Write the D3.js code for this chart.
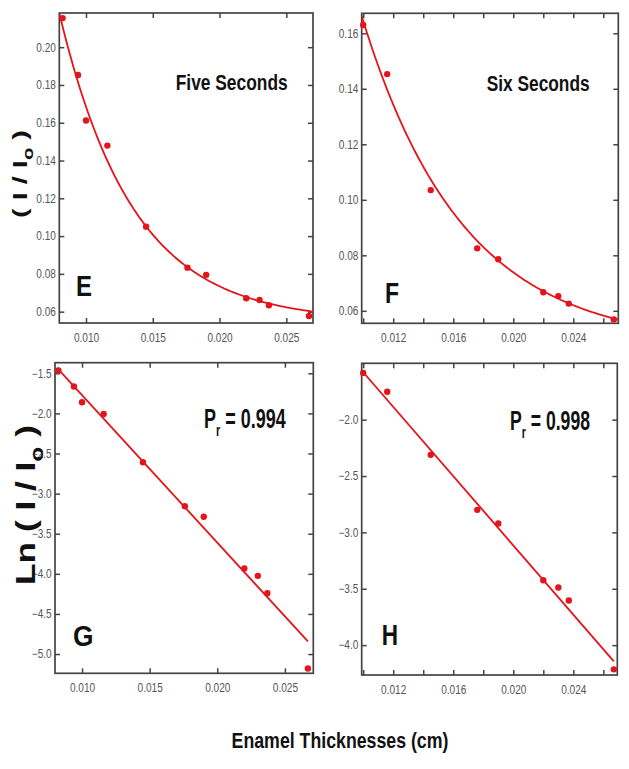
<!DOCTYPE html>
<html>
<head>
<meta charset="utf-8">
<script src="https://cdnjs.cloudflare.com/ajax/libs/d3/7.8.5/d3.min.js"></script>
<style>
  body { margin: 0; background: #fff; }
  svg { display: block; }
</style>
</head>
<body>
<script>
// enamel thickness (cm) for each measurement
const thickFive = [0.00825, 0.0094, 0.0100, 0.0116, 0.0145, 0.0176, 0.0190, 0.0220, 0.0230, 0.0237, 0.0267];
const thickSix = [0.0100, 0.0116, 0.0145, 0.0176, 0.0190, 0.0220, 0.0230, 0.0237, 0.0267];

// I / Io
const ratioE = [0.2154, 0.1853, 0.1612, 0.1479, 0.1050, 0.0833, 0.0795, 0.0671, 0.0662, 0.0634, 0.0577];
const ratioF = [0.1630, 0.1453, 0.1035, 0.0825, 0.0786, 0.0667, 0.0653, 0.0626, 0.0569];

// Ln(I / Io)
const lnG = [-1.465, -1.665, -1.861, -2.008, -2.609, -3.157, -3.289, -3.934, -4.025, -4.242, -5.18];
const lnH = [-1.585, -1.753, -2.312, -2.800, -2.921, -3.425, -3.489, -3.604, -4.215];

// fits: offset + amp * exp(-k x)  and  intercept + slope * x
const expFitE = [0.0548, 0.6946, 181];
const expFitF = [0.0475, 0.519, 149];
const linFitG = [0.065, -183.8];
const linFitH = [-0.043, -153.6];

const ticksXFive = [0.010, 0.015, 0.020, 0.025];
const ticksXSix = [0.010, 0.012, 0.014, 0.016, 0.018, 0.020, 0.022, 0.024, 0.026];
const labelsXSix = [0.012, 0.016, 0.020, 0.024];
const ticksYE = [0.06, 0.08, 0.10, 0.12, 0.14, 0.16, 0.18, 0.20];
const ticksYF = [0.06, 0.08, 0.10, 0.12, 0.14, 0.16];
const ticksYG = [-5.0, -4.5, -4.0, -3.5, -3.0, -2.5, -2.0, -1.5];
const ticksYH = [-4.0, -3.5, -3.0, -2.5, -2.0];

const W = 629, H = 769;
const red = "#e3141b";
const font = "'Liberation Sans', Arial, sans-serif";

const svg = d3.select("body").append("svg")
  .attr("width", W)
  .attr("height", H);

// bold text squeezed sideways to look like a condensed face
function squeezed(x, y, size, width, rot, anchor) {
  const g = svg.append("g");
  const t = g.append("text")
    .attr("text-anchor", anchor || "start")
    .style("font-family", font)
    .style("font-weight", "bold")
    .style("font-size", size + "px")
    .attr("fill", "#111");
  return {
    t: t,
    fit: () => {
      const bw = t.node().getBBox().width;
      g.attr("transform", `translate(${x},${y}) rotate(${rot || 0}) scale(${width / bw},1)`);
    }
  };
}

const panels = [
  { id: "E", box: [59.3, 13, 313, 323], xd: [0.0080, 0.0270], yd: [0.054, 0.2181],
    xs: thickFive, ys: ratioE, xt: ticksXFive, xl: ticksXFive, yt: ticksYE, xf: ".3f", yf: ".2f",
    exp: expFitE, letter: [76, 296, 16], note: "Five Seconds", noteAt: [175.7, 90, 112] },
  { id: "F", box: [361.7, 13.3, 618.3, 323.3], xd: [0.0099, 0.0270], yd: [0.0555, 0.1672],
    xs: thickSix, ys: ratioF, xt: ticksXSix, xl: labelsXSix, yt: ticksYF, xf: ".3f", yf: ".2f",
    exp: expFitF, letter: [385, 303, 14], note: "Six Seconds", noteAt: [486.7, 91, 103] },
  { id: "G", box: [55, 362.7, 313.3, 673.3], xd: [0.0080, 0.0271], yd: [-5.24, -1.368],
    xs: thickFive, ys: lnG, xt: ticksXFive, xl: ticksXFive, yt: ticksYG, xf: ".3f", yf: ".1f",
    lin: linFitG, letter: [73, 646, 20.5], pr: "0.994", noteAt: [204, 428, 82] },
  { id: "H", box: [361.7, 363.3, 617.3, 675], xd: [0.0099, 0.02693], yd: [-4.265, -1.5],
    xs: thickSix, ys: lnH, xt: ticksXSix, xl: labelsXSix, yt: ticksYH, xf: ".3f", yf: ".1f",
    lin: linFitH, letter: [381.7, 645, 16.3], pr: "0.998", noteAt: [510, 430, 80] }
];

panels.forEach(p => {
  const [x0, y0, x1, y1] = p.box;
  const w = x1 - x0, h = y1 - y0;
  const g = svg.append("g").attr("transform", `translate(${x0},${y0})`);
  const x = d3.scaleLinear().domain(p.xd).range([0, w]);
  const y = d3.scaleLinear().domain(p.yd).range([h, 0]);

  const fx = d3.format(p.xf), fy = d3.format(p.yf);
  const xLab = d => p.xl.some(v => Math.abs(v - d) < 1e-9) ? fx(d) : "";

  const axes = [
    [d3.axisBottom(x).tickValues(p.xt).tickFormat(xLab).tickPadding(10), `translate(0,${h})`],
    [d3.axisTop(x).tickValues(p.xt).tickFormat(""), "translate(0,0)"],
    [d3.axisLeft(y).tickValues(p.yt).tickFormat(fy).tickPadding(4), "translate(0,0)"],
    [d3.axisRight(y).tickValues(p.yt).tickFormat(""), `translate(${w},0)`]
  ];
  axes.forEach(([ax, tr]) => {
    const a = g.append("g").attr("transform", tr)
      .call(ax.tickSizeInner(-5).tickSizeOuter(0));
    a.select(".domain").remove();
    a.selectAll("line").attr("stroke", "#444").attr("stroke-width", 1.5);
    a.selectAll("text")
      .attr("transform", "scale(0.84,1)")
      .style("font-family", font)
      .style("font-size", "12px")
      .attr("fill", "#555");
  });

  g.append("rect")
    .attr("width", w).attr("height", h)
    .attr("fill", "none")
    .attr("stroke", "#444")
    .attr("stroke-width", 1.7);

  const clipId = "clip" + p.id;
  g.append("clipPath").attr("id", clipId)
    .append("rect").attr("width", w).attr("height", h);

  // fit curve
  let pts;
  if (p.exp) {
    const [c, a, k] = p.exp;
    pts = d3.range(0, 121).map(i => {
      const xv = p.xd[0] + (p.xd[1] - p.xd[0]) * i / 120;
      return [xv, c + a * Math.exp(-k * xv)];
    });
  } else {
    const [b, m] = p.lin;
    const ext = [d3.min(p.xs) - 0.0001, d3.max(p.xs)];
    pts = ext.map(xv => [xv, b + m * xv]);
  }
  g.append("path")
    .attr("clip-path", `url(#${clipId})`)
    .attr("d", d3.line().x(d => x(d[0])).y(d => y(d[1]))(pts))
    .attr("fill", "none")
    .attr("stroke", red)
    .attr("stroke-width", 1.8);

  g.selectAll("circle.pt")
    .data(p.xs.map((d, i) => [d, p.ys[i]]))
    .join("circle")
    .attr("class", "pt")
    .attr("cx", d => x(d[0]))
    .attr("cy", d => y(d[1]))
    .attr("r", 3.2)
    .attr("fill", red);

  // panel letter
  const L = squeezed(p.letter[0], p.letter[1], 30, p.letter[2]);
  L.t.text(p.id);
  L.fit();

  if (p.note) {
    const n = squeezed(p.noteAt[0], p.noteAt[1], 22, p.noteAt[2]);
    n.t.text(p.note);
    n.fit();
  }
  if (p.pr) {
    const n = squeezed(p.noteAt[0], p.noteAt[1], 28, p.noteAt[2]);
    n.t.append("tspan").text("P");
    n.t.append("tspan").attr("dy", 8).style("font-size", "17px").text("r");
    n.t.append("tspan").attr("dy", -8).text(" = " + p.pr);
    n.fit();
  }
});

// y titles
function yTitle(cx, cy, size, len, prefix) {
  const n = squeezed(cx, cy, size, len, -90, "middle");
  n.t.append("tspan").text(prefix + "(  I  /  I");
  n.t.append("tspan").attr("dy", size * 0.3).style("font-size", (size * 0.7) + "px").text("o");
  n.t.append("tspan").attr("dy", -size * 0.3).text("  )");
  n.fit();
}
yTitle(26.5, 174, 20, 88, "");
yTitle(35, 505, 27, 160, "Ln ");

const xt = squeezed(340, 748, 22, 217, 0, "middle");
xt.t.text("Enamel Thicknesses (cm)");
xt.fit();
</script>
</body>
</html>
